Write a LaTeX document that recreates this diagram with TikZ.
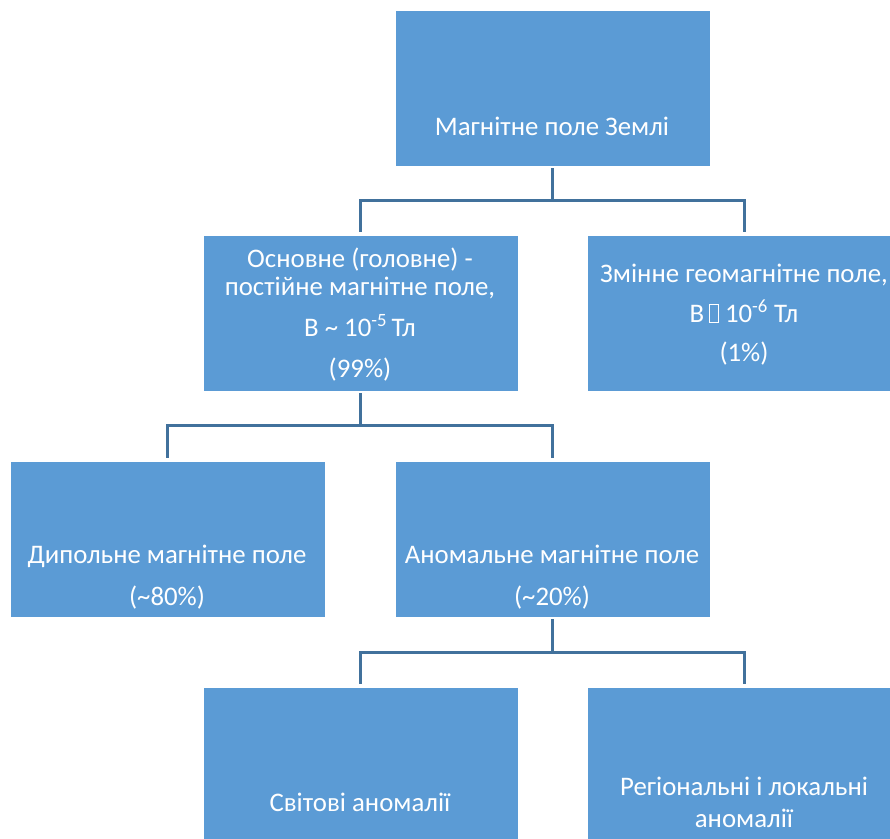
\documentclass[tikz,border=0pt]{standalone}
\usepackage{fontspec}
\setmainfont{Carlito}
\usepackage{xcolor}
\usepackage{tikz}
\definecolor{boxblue}{RGB}{91,155,213}
\definecolor{lineblue}{RGB}{65,113,156}
\usetikzlibrary{calc}
% empty glyph box as printed in the source
\newcommand{\tofu}{{\setlength{\fboxsep}{0pt}\setlength{\fboxrule}{0.6pt}\fbox{\rule{0pt}{17pt}\hspace{9pt}}}}

\begin{document}
\begin{tikzpicture}[x=1pt, y=-1pt,
    box/.style={rectangle, fill=boxblue, draw=white, line width=0.8pt, minimum width=315pt, minimum height=156pt, inner sep=0pt},
    txt/.style={anchor=base, text=white, inner sep=0pt, font=\fontsize{26.8}{30}\selectfont},
    link/.style={draw=lineblue, line width=2.5pt, shorten >=3pt, shorten <=2pt}]
    \useasboundingbox (0,0) rectangle (890,838);
    \fill[white] (0,0) rectangle (890,838);
    \clip (0,0) rectangle (890,838);

    % Boxes
    \node[box] (earth) at (552.5,88) {};
    \node[box] (main) at (360.5,313) {};
    \node[box] (vary) at (744.5,313) {};
    \node[box] (dipole) at (167.5,539) {};
    \node[box] (anomal) at (552.5,539) {};
    \node[box] (world) at (360.5,765) {};
    \node[box] (region) at (744.5,765) {};

    % Connectors
    \draw[link] (earth.south) -- ++(0,34) -| (main.north);
    \draw[link] (earth.south) -- ++(0,34) -| (vary.north);
    \draw[link] (main.south) -- ++(0,34) -| (dipole.north);
    \draw[link] (main.south) -- ++(0,34) -| (anomal.north);
    \draw[link] (anomal.south) -- ++(0,35) -| (world.north);
    \draw[link] (anomal.south) -- ++(0,35) -| (region.north);

    % Texts
    \node[txt] (t-earth) at (552,135) {Магнітне поле Землі};

    \node[txt] (t-main1) at (360,267) {Основне (головне) -};
    \node[txt] (t-main2) at (360,295) {постійне магнітне поле,};
    \node[txt] (t-main3) at (360,336) {В \textasciitilde{} 10\textsuperscript{-5}\,Тл};
    \node[txt] (t-main4) at (360,377) {(99\%)};

    \node[txt] (t-vary1) at (744,282) {Змінне геомагнітне поле,};
    \node[txt] (t-vary2) at (744,322) {В\,\tofu{} 10\textsuperscript{-6} Тл};
    \node[txt] (t-vary3) at (744,361) {(1\%)};

    \node[txt] (t-dipole1) at (167,563) {Дипольне магнітне поле};
    \node[txt] (t-dipole2) at (167,605) {(\textasciitilde80\%)};

    \node[txt] (t-anomal1) at (552,563) {Аномальне магнітне поле};
    \node[txt] (t-anomal2) at (552,605) {(\textasciitilde20\%)};

    \node[txt] (t-world) at (360,811) {Світові аномалії};

    \node[txt] (t-region1) at (744,795) {Регіональні і локальні};
    \node[txt] (t-region2) at (744,827) {аномалії};
\end{tikzpicture}
\end{document}
